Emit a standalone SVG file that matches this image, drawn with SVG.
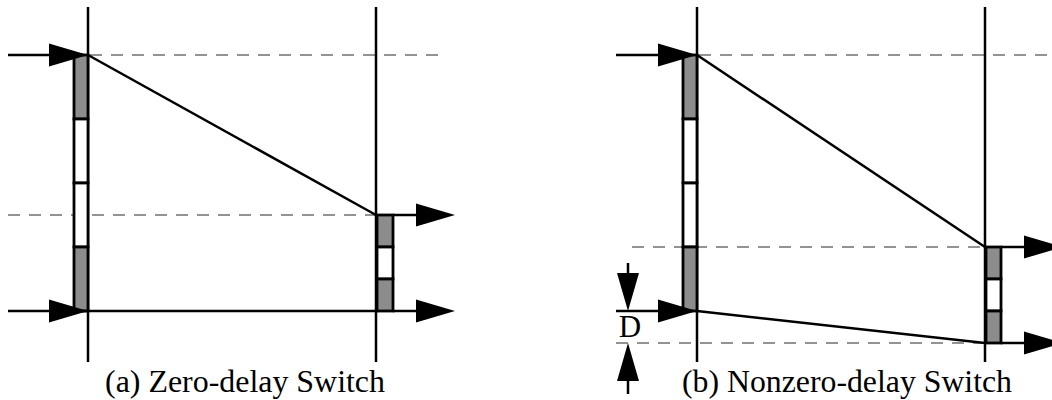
<svg xmlns="http://www.w3.org/2000/svg" width="1052" height="400" viewBox="0 0 1052 400">
<style>
.ax{stroke:#000;stroke-width:2.5;fill:none}
.ln{stroke:#000;stroke-width:2.5;fill:none}
.dash{stroke:#707070;stroke-width:1.4;stroke-dasharray:12 9;fill:none}
.g{fill:#8c8c8c;stroke:#000;stroke-width:2.8}
.w{fill:#fff;stroke:#000;stroke-width:2.8}
.ah{fill:#000;stroke:none}
.cap{font-family:'Liberation Serif','Times New Roman',serif;font-size:31px;fill:#000}
</style>
<defs>
<polygon id="arr" class="ah" points="0,0 -39,-11.5 -39,11.5"/>
</defs>
<rect width="1052" height="400" fill="#fff"/>
<g id="guides">
<line class="dash" x1="90" y1="55" x2="442" y2="55"/>
<line class="dash" x1="8" y1="215" x2="376" y2="215"/>
<line class="dash" x1="699" y1="55" x2="1048" y2="55"/>
<line class="dash" x1="632" y1="247" x2="985" y2="247"/>
<line class="dash" x1="616" y1="343" x2="985" y2="343"/>
</g>
<g id="axes">
<line class="ax" x1="88" y1="7" x2="88" y2="362"/>
<line class="ax" x1="376" y1="7" x2="376" y2="362"/>
<line class="ax" x1="697" y1="7" x2="697" y2="362"/>
<line class="ax" x1="985" y1="7" x2="985" y2="362"/>
</g>
<g id="a-input-buffer">
<rect class="g" x="74" y="55" width="14" height="64"/>
<rect class="w" x="74" y="119" width="14" height="64"/>
<rect class="w" x="74" y="183" width="14" height="64"/>
<rect class="g" x="74" y="247" width="14" height="64"/>
</g>
<g id="a-output-buffer">
<rect class="g" x="377" y="215" width="16" height="32"/>
<rect class="w" x="377" y="247" width="16" height="32"/>
<rect class="g" x="377" y="279" width="16" height="32"/>
</g>
<g id="b-input-buffer">
<rect class="g" x="683" y="55" width="14" height="64"/>
<rect class="w" x="683" y="119" width="14" height="64"/>
<rect class="w" x="683" y="183" width="14" height="64"/>
<rect class="g" x="683" y="247" width="14" height="64"/>
</g>
<g id="b-output-buffer">
<rect class="g" x="986" y="247" width="15" height="32"/>
<rect class="w" x="986" y="279" width="15" height="32"/>
<rect class="g" x="986" y="311" width="15" height="32"/>
</g>
<g id="connectors">
<line class="ln" x1="8" y1="55" x2="60" y2="55"/>
<use href="#arr" x="88" y="55"/>
<line class="ln" x1="8" y1="311" x2="378" y2="311"/>
<use href="#arr" x="88" y="311"/>
<line class="ln" x1="88" y1="55" x2="376" y2="215"/>
<line class="ln" x1="393" y1="215" x2="420" y2="215"/>
<use href="#arr" x="455" y="215"/>
<line class="ln" x1="393" y1="311" x2="420" y2="311"/>
<use href="#arr" x="455" y="311"/>
<line class="ln" x1="616" y1="55" x2="670" y2="55"/>
<use href="#arr" x="697" y="55"/>
<line class="ln" x1="616" y1="311" x2="670" y2="311"/>
<use href="#arr" x="697" y="311"/>
<line class="ln" x1="697" y1="55" x2="985" y2="247"/>
<line class="ln" x1="697" y1="311" x2="985" y2="343"/>
<line class="ln" x1="1001" y1="247" x2="1028" y2="247"/>
<use href="#arr" x="1063" y="247"/>
<line class="ln" x1="1001" y1="343" x2="1028" y2="343"/>
<use href="#arr" x="1063" y="343"/>
</g>
<g id="delay-marker">
<line class="ln" x1="628" y1="263" x2="628" y2="275"/>
<polygon class="ah" points="628,311 617,273 639,273"/>
<line class="ln" x1="628" y1="378" x2="628" y2="394"/>
<polygon class="ah" points="628,343 617,381 639,381"/>
<text class="cap" x="630" y="337" text-anchor="middle" font-size="34">D</text>
</g>
<g id="captions">
<text class="cap" x="105" y="392" textLength="280" lengthAdjust="spacingAndGlyphs">(a) Zero-delay Switch</text>
<text class="cap" x="682" y="392" textLength="330" lengthAdjust="spacingAndGlyphs">(b) Nonzero-delay Switch</text>
</g>
</svg>
